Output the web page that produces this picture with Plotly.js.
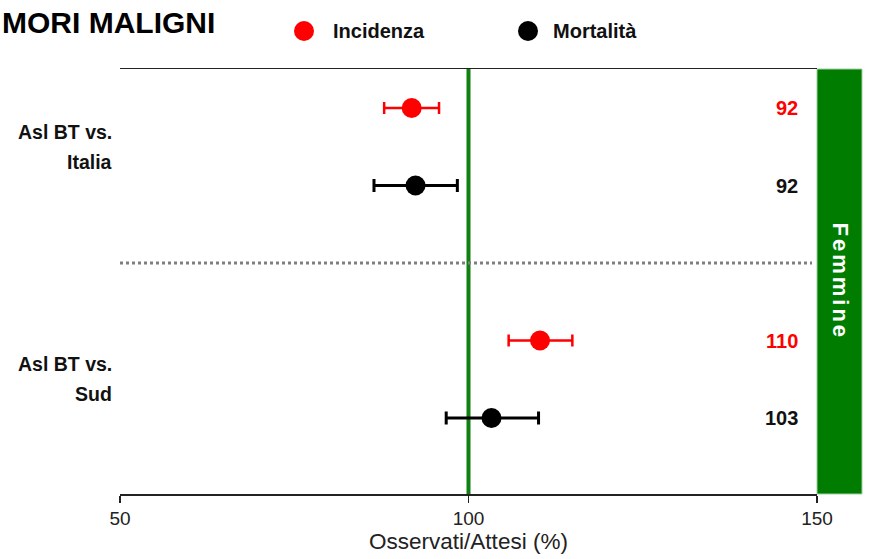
<!DOCTYPE html>
<html>
<head>
<meta charset="utf-8">
<script src="https://cdn.plot.ly/plotly-3.0.1.min.js"></script>
<style>html,body{margin:0;padding:0;background:#fff;}#chart{width:871px;height:559px;}</style>
</head>
<body>
<div id="chart"></div>
<script>
// ---- data ----
const titleText = "MORI MALIGNI";
const labelPrefix = "Asl BT vs.";
const categories = ["Italia", "Sud"];
const seriesNames = ["Incidenza", "Mortalità"];
const incidenza = [91.85, 110.26];
const incidenzaLow = [87.9, 105.76];
const incidenzaHigh = [95.77, 114.9];
const mortalita = [92.4, 103.3];
const mortalitaLow = [86.44, 96.8];
const mortalitaHigh = [98.4, 110.05];
const xTicks = [50, 100, 150];
const panelLabel = "Femmine";
const referenceValue = 100;

// ---- layout helpers ----
const FONT = "Liberation Sans, Arial, sans-serif";
const W = 871, H = 559, ML = 120, MR = 54, MT = 69, MB = 65;
const PW = W - ML - MR, PH = H - MT - MB;
const px2x = p => (p - ML) / PW;      // pixel -> paper x
const py2y = p => 1 - (p - MT) / PH;  // pixel -> paper y

// row positions: group i -> incidenza at 1+3i, mortalità at 2+3i
const incY = categories.map((c, i) => 1 + 3 * i);
const mortY = categories.map((c, i) => 2 + 3 * i);

const traces = [
  {
    type: "scatter", mode: "markers", name: seriesNames[0], showlegend: false,
    x: incidenza, y: incY,
    marker: {color: "#ff0000", size: 20},
    error_x: {type: "data", symmetric: false,
      array: incidenza.map((v, i) => incidenzaHigh[i] - v),
      arrayminus: incidenza.map((v, i) => v - incidenzaLow[i]),
      color: "#ff0000", thickness: 2.5, width: 6},
    hoverinfo: "x"
  },
  {
    type: "scatter", mode: "markers", name: seriesNames[1], showlegend: false,
    x: mortalita, y: mortY,
    marker: {color: "#000000", size: 20},
    error_x: {type: "data", symmetric: false,
      array: mortalita.map((v, i) => mortalitaHigh[i] - v),
      arrayminus: mortalita.map((v, i) => v - mortalitaLow[i]),
      color: "#000000", thickness: 3, width: 6.5},
    hoverinfo: "x"
  }
];

const annotations = [];
const shapes = [];

// title (cut at left edge like reference)
annotations.push({xref: "paper", yref: "paper", x: px2x(0), y: py2y(22), xanchor: "left", yanchor: "middle",
  text: "<b>" + titleText + "</b>", showarrow: false, font: {family: FONT, size: 30, color: "#000"}});

// legend (manual)
const legendColors = ["#ff0000", "#000000"];
const legendMarkerPx = [304, 528];
const legendTextPx = [331, 551];
seriesNames.forEach((n, i) => {
  shapes.push({type: "circle", xref: "paper", yref: "paper", xsizemode: "pixel", ysizemode: "pixel",
    xanchor: px2x(legendMarkerPx[i]), yanchor: py2y(31), x0: -10, x1: 10, y0: -10, y1: 10,
    fillcolor: legendColors[i], line: {width: 0}});
  annotations.push({xref: "paper", yref: "paper", x: px2x(legendTextPx[i]), y: py2y(31), xanchor: "left", yanchor: "middle",
    text: "<b>" + n + "</b>", showarrow: false, font: {family: FONT, size: 20, color: "#111"}});
});

// category labels
categories.forEach((c, i) => {
  const yc = (incY[i] + mortY[i]) / 2;
  annotations.push({xref: "paper", yref: "y", x: px2x(114), y: yc, yshift: 15, xanchor: "right", yanchor: "middle",
    text: "<b>" + labelPrefix + "</b>", showarrow: false, font: {family: FONT, size: 19.5, color: "#111"}});
  annotations.push({xref: "paper", yref: "y", x: px2x(114), y: yc, yshift: -15, xanchor: "right", yanchor: "middle",
    text: "<b>" + c + "</b>", showarrow: false, font: {family: FONT, size: 19.5, color: "#111"}});
});

// value labels
const labelX = 50 + (800 - ML) / (PW / 100);
incidenza.forEach((v, i) => annotations.push({x: labelX, y: incY[i], xanchor: "right", yanchor: "middle",
  text: "<b>" + Math.round(v) + "</b>", showarrow: false, font: {family: FONT, size: 20, color: "#ff0000"}}));
mortalita.forEach((v, i) => annotations.push({x: labelX, y: mortY[i], xanchor: "right", yanchor: "middle",
  text: "<b>" + Math.round(v) + "</b>", showarrow: false, font: {family: FONT, size: 20, color: "#111"}}));

// reference line at 100
shapes.push({type: "line", xref: "x", yref: "paper", x0: referenceValue, x1: referenceValue, y0: 0, y1: 1,
  line: {color: "#108010", width: 4}, layer: "below"});

// separator between groups
shapes.push({type: "line", xref: "paper", yref: "y", x0: 0, x1: px2x(812), y0: 3, y1: 3,
  line: {color: "#7f7f7f", width: 3, dash: "dot"}});

// green side panel
shapes.push({type: "rect", xref: "paper", yref: "paper", x0: 1, x1: px2x(862), y0: 0, y1: 1,
  fillcolor: "#007d00", line: {color: "#9fd09f", width: 1}});
annotations.push({xref: "paper", yref: "paper", x: px2x(840), y: 0.5, xanchor: "center", yanchor: "middle",
  textangle: 90, text: '<b><span style="letter-spacing:3px">' + panelLabel + '</span></b>', showarrow: false,
  font: {family: FONT, size: 22, color: "#ffffff"}});

const layout = {
  width: W, height: H,
  margin: {l: ML, r: MR, t: MT, b: MB, pad: 0},
  paper_bgcolor: "#fff", plot_bgcolor: "#fff",
  showlegend: false,
  font: {family: FONT, color: "#222"},
  xaxis: {
    range: [50, 150], tickvals: xTicks, ticktext: xTicks.map(String),
    showgrid: false, zeroline: false, showline: true, mirror: true,
    linecolor: "#222", linewidth: 1.5, ticks: "outside", ticklen: 7, tickwidth: 1.5, tickcolor: "#222",
    tickfont: {family: FONT, size: 19, color: "#222"},
    title: {text: "Osservati/Attesi (%)", font: {family: FONT, size: 22.5, color: "#222"}, standoff: 3},
    fixedrange: true
  },
  yaxis: {
    range: [5 + 76 / 77.5, 1 - 39 / 77.5],
    showgrid: false, zeroline: false, showline: false, showticklabels: false, ticks: "",
    fixedrange: true
  },
  shapes: shapes,
  annotations: annotations
};

Plotly.newPlot("chart", traces, layout, {displayModeBar: false, staticPlot: true});
</script>
</body>
</html>
